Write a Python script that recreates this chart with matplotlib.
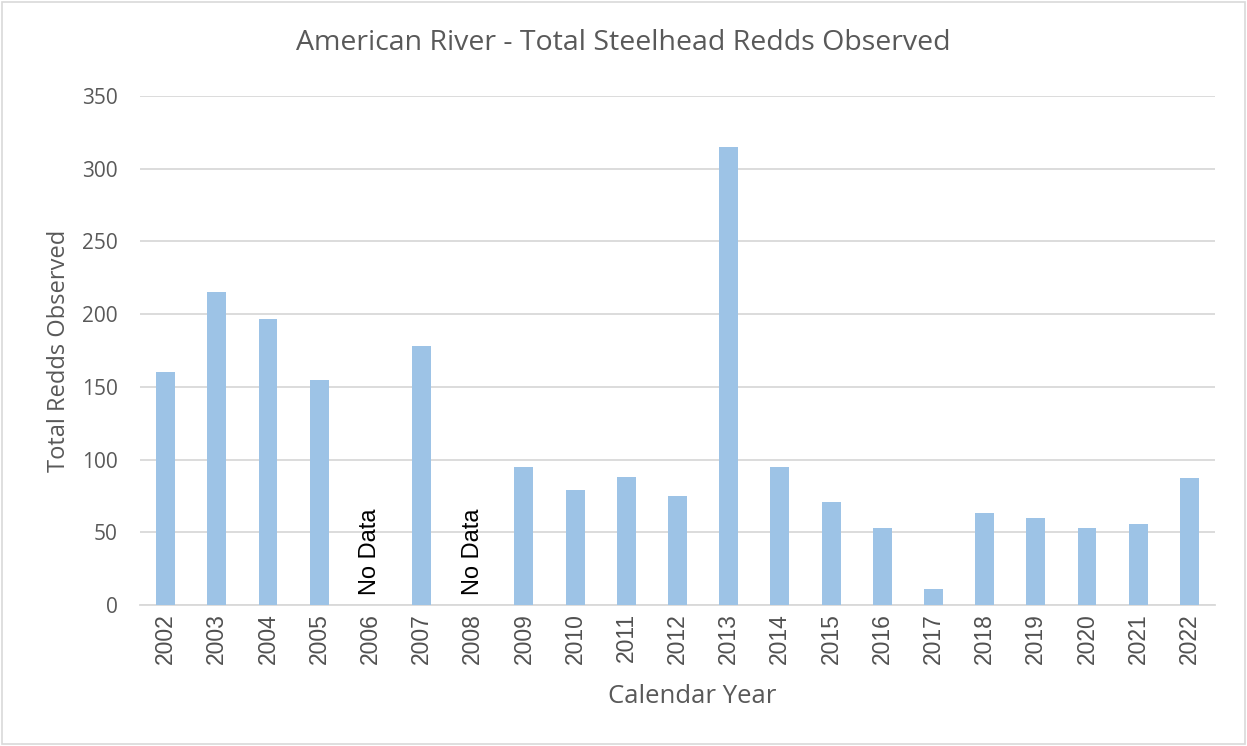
import matplotlib
matplotlib.use("Agg")
import matplotlib.pyplot as plt
from matplotlib.patches import Rectangle

years = ["2002", "2003", "2004", "2005", "2006", "2007", "2008", "2009", "2010", "2011",
         "2012", "2013", "2014", "2015", "2016", "2017", "2018", "2019", "2020", "2021", "2022"]
redds = [160, 215, 197, 155, None, 178, None, 95, 79, 88,
         75, 315, 95, 71, 53, 11, 63, 60, 53, 56, 87]
no_data_years = ["2006", "2008"]
yticks = [0, 50, 100, 150, 200, 250, 300, 350]

plt.rcParams['font.family'] = ['Open Sans', 'DejaVu Sans']
gray = "#595959"
arial = ['Liberation Sans', 'DejaVu Sans']

fig = plt.figure(figsize=(12.47, 7.46), dpi=100)
fig.patches.append(Rectangle((0.002, 0.003), 0.996, 0.994, transform=fig.transFigure,
                             fill=False, edgecolor="#D9D9D9", linewidth=1.2))
ax = fig.add_axes([0.1123, 0.189, 0.862, 0.6823])

xs = list(range(len(years)))
for i, v in enumerate(redds):
    if v is not None:
        ax.bar(i, v, width=0.37, color="#9DC3E6", zorder=3)
for y in no_data_years:
    i = years.index(y)
    ax.text(i, 7, "No Data", rotation=90, ha="center", va="bottom", fontsize=17,
            color="black", family=arial)

ax.set_xlim(-0.5, len(years) - 0.5)
ax.set_ylim(0, 350)
ax.set_yticks(yticks)
ax.set_xticks(xs)
ax.set_xticklabels(years, rotation=90, fontsize=16.5, color="#505050", family=arial)
ax.tick_params(axis="y", labelsize=15, colors=gray, length=0, pad=16)
ax.tick_params(axis="x", length=0, pad=6)
ax.grid(axis="y", color="#D9D9D9", linewidth=1.3, zorder=0)
for s in ["top", "right", "left"]:
    ax.spines[s].set_visible(False)
ax.spines["bottom"].set_color("#D9D9D9")
ax.spines["bottom"].set_linewidth(1.3)

ax.set_ylabel("Total Redds Observed", fontsize=17, color=gray)
ax.yaxis.set_label_coords(-0.064, 0.5)
ax.set_xlabel("Calendar Year", fontsize=18.5, color=gray)
ax.xaxis.set_label_coords(0.5135, -0.155)
fig.text(0.5, 1 - 43 / 746, "American River - Total Steelhead Redds Observed", ha="center",
         va="center", fontsize=20.5, color=gray)

fig.savefig("out.png", dpi=100)
